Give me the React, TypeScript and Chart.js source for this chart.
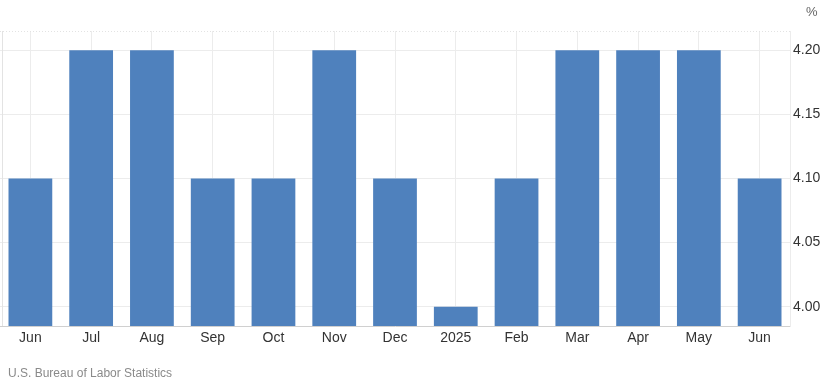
import React, { useEffect, useRef } from "react";
import { Chart, registerables } from "chart.js";

Chart.register(...registerables);

const categories = ["Jun", "Jul", "Aug", "Sep", "Oct", "Nov", "Dec", "2025", "Feb", "Mar", "Apr", "May", "Jun"];
const values = [4.1, 4.2, 4.2, 4.1, 4.1, 4.2, 4.1, 4.0, 4.1, 4.2, 4.2, 4.2, 4.1];
const yTicks = [4.0, 4.05, 4.1, 4.15, 4.2];
const unitLabel = "%";
const sourceLabel = "U.S. Bureau of Labor Statistics";

const framePlugin = {
  id: "frame",
  beforeDatasetsDraw(chart: any) {
    const { ctx, chartArea } = chart;
    ctx.save();
    ctx.strokeStyle = "#e3e3e3";
    ctx.lineWidth = 1;
    ctx.setLineDash([1, 2]);
    ctx.beginPath();
    ctx.moveTo(chartArea.left, chartArea.top + 0.5);
    ctx.lineTo(chartArea.right, chartArea.top + 0.5);
    ctx.stroke();
    ctx.setLineDash([]);
    ctx.beginPath();
    ctx.moveTo(chartArea.left + 2.5, chartArea.top);
    ctx.lineTo(chartArea.left + 2.5, chartArea.bottom);
    ctx.stroke();
    ctx.restore();
  },
};

export default function App() {
  const ref = useRef<HTMLCanvasElement | null>(null);
  useEffect(() => {
    if (!ref.current) return;
    const chart = new Chart(ref.current, {
      type: "bar",
      data: {
        labels: categories,
        datasets: [
          {
            data: values,
            backgroundColor: "#4f81bd",
            borderWidth: 0,
            barPercentage: 0.72,
            categoryPercentage: 1,
          },
        ],
      },
      options: {
        animation: false,
        responsive: false,
        maintainAspectRatio: false,
        layout: { padding: { left: 0, right: 0, top: 31, bottom: 31 } },
        plugins: { legend: { display: false }, tooltip: { enabled: false } },
        scales: {
          x: {
            grid: { offset: false, color: "#ececec", drawTicks: false },
            border: { display: true, color: "#d0d0d0" },
            ticks: {
              color: "#333333",
              font: { family: "'Liberation Sans', Arial, sans-serif", size: 14 },
              padding: 4,
              maxRotation: 0,
              autoSkip: false,
            },
            afterFit: (s: any) => {
              s.height = 30;
            },
          },
          y: {
            position: "right",
            min: 3.985,
            max: 4.215,
            afterBuildTicks: (s: any) => {
              s.ticks = yTicks.map((v) => ({ value: v }));
            },
            grid: { color: "#ececec", drawTicks: false },
            border: { display: true, color: "#ececec" },
            ticks: {
              color: "#333333",
              font: { family: "'Liberation Sans', Arial, sans-serif", size: 14 },
              padding: 3,
              callback: (v: any) => Number(v).toFixed(2),
            },
            afterFit: (s: any) => {
              s.width = 42;
            },
          },
        },
      },
      plugins: [framePlugin],
    });
    return () => chart.destroy();
  }, []);

  return (
    <div style={{ position: "absolute", left: 0, top: 0, width: 832, height: 387, background: "#fff", fontFamily: "'Liberation Sans', Arial, sans-serif" }}>
      <canvas ref={ref} width={832} height={387} style={{ display: "block", width: 832, height: 387 }} />
      <div style={{ position: "absolute", left: 806, top: 4, fontSize: 13, color: "#666" }}>{unitLabel}</div>
      <div style={{ position: "absolute", left: 8, top: 366, fontSize: 12, color: "#8a8a8a" }}>{sourceLabel}</div>
    </div>
  );
}
